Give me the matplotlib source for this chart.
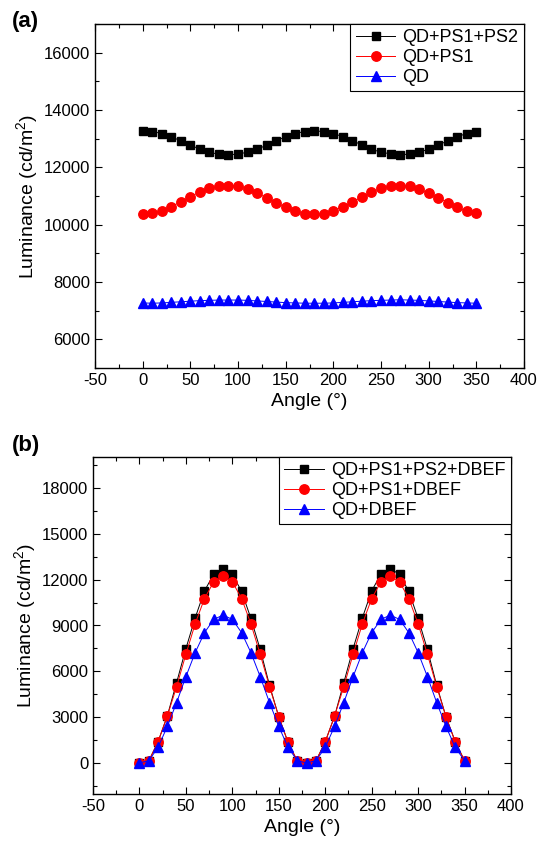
import matplotlib
matplotlib.use('Agg')
import matplotlib.pyplot as plt
from matplotlib.ticker import MultipleLocator

plt.rcParams['font.family'] = ['Liberation Sans', 'DejaVu Sans']
plt.rcParams['axes.unicode_minus'] = False
plt.rcParams['mathtext.fontset'] = 'custom'
plt.rcParams['mathtext.rm'] = 'Liberation Sans'

# 角度 (°)
angle = list(range(0, 360, 10))

# (a) 无 DBEF
lum_qd_ps1_ps2 = [13270, 13250, 13180, 13070, 12920, 12780, 12630, 12520, 12460, 12440,
                  12460, 12530, 12630, 12770, 12920, 13070, 13180, 13250, 13270, 13250,
                  13180, 13070, 12930, 12780, 12630, 12530, 12470, 12440, 12460, 12530,
                  12630, 12780, 12920, 13070, 13180, 13250]
lum_qd_ps1 = [10360, 10390, 10490, 10630, 10800, 10980, 11140, 11270, 11340, 11360,
              11340, 11240, 11100, 10940, 10770, 10600, 10470, 10370, 10360, 10370,
              10490, 10630, 10790, 10970, 11130, 11270, 11340, 11360, 11340, 11240,
              11100, 10940, 10770, 10600, 10470, 10390]
lum_qd = [7270, 7260, 7270, 7290, 7310, 7330, 7350, 7360, 7370, 7370,
          7370, 7360, 7340, 7320, 7300, 7280, 7270, 7260, 7260, 7260,
          7270, 7290, 7310, 7330, 7350, 7360, 7370, 7380, 7370, 7360,
          7340, 7320, 7300, 7280, 7270, 7260]

# (b) 加 DBEF
lum_b_ps1_ps2 = [30, 150, 1410, 3100, 5270, 7490, 9500, 11260, 12350, 12700,
                 12350, 11220, 9460, 7440, 5100, 3040, 1370, 150, 30, 150,
                 1410, 3060, 5270, 7490, 9500, 11260, 12350, 12700, 12350, 11220,
                 9460, 7440, 5100, 3040, 1410, 170]
lum_b_ps1 = [30, 150, 1410, 3080, 5010, 7120, 9110, 10760, 11850, 12200,
             11850, 10760, 9110, 7120, 5010, 3040, 1370, 150, 30, 150,
             1410, 3080, 5010, 7120, 9110, 10760, 11850, 12200, 11850, 10760,
             9110, 7120, 5010, 3040, 1410, 170]
lum_b_qd = [30, 170, 1040, 2410, 3970, 5660, 7230, 8530, 9400, 9680,
            9400, 8530, 7230, 5660, 3970, 2410, 1040, 170, 30, 170,
            1040, 2410, 3970, 5660, 7230, 8530, 9400, 9680, 9400, 8530,
            7230, 5660, 3970, 2410, 1040, 170]

fig = plt.figure(figsize=(5.4, 8.51), dpi=100)
ax1 = fig.add_axes([95/540, 1-368/851, (524-95)/540, (368-24)/851])
ax2 = fig.add_axes([93/540, 1-794/851, (511-93)/540, (794-457)/851])


def style(ax):
    ax.set_xlim(-50, 400)
    ax.xaxis.set_major_locator(MultipleLocator(50))
    ax.xaxis.set_minor_locator(MultipleLocator(25))
    ax.tick_params(which='both', direction='in', top=True, right=True, labelsize=12)
    ax.tick_params(which='major', length=5, width=0.8)
    ax.tick_params(which='minor', length=3, width=0.8)
    ax.set_xlabel('Angle (°)', fontsize=14)
    ax.set_ylabel('Luminance (cd/m$^2$)', fontsize=14, labelpad=2)
    for s in ax.spines.values():
        s.set_linewidth(1.0)


def legend(ax):
    leg = ax.legend(loc='upper right', bbox_to_anchor=(1.0, 1.0), fontsize=13, fancybox=False,
                    edgecolor='black', framealpha=1, borderaxespad=0, handlelength=2.2,
                    labelspacing=0.15, borderpad=0.3, handletextpad=0.4)
    leg.get_frame().set_linewidth(0.8)


ax1.plot(angle, lum_qd_ps1_ps2, color='black', marker='s', ms=5.8, lw=0.7, label='QD+PS1+PS2')
ax1.plot(angle, lum_qd_ps1, color='red', marker='o', ms=6.8, lw=0.7, label='QD+PS1')
ax1.plot(angle, lum_qd, color='blue', marker='^', ms=6.8, lw=0.7, label='QD')
style(ax1)
ax1.set_ylim(5000, 17000)
ax1.yaxis.set_major_locator(MultipleLocator(2000))
ax1.yaxis.set_minor_locator(MultipleLocator(1000))
legend(ax1)

ax2.plot(angle, lum_b_ps1_ps2, color='black', marker='s', ms=5.8, lw=0.7, label='QD+PS1+PS2+DBEF')
ax2.plot(angle, lum_b_ps1, color='red', marker='o', ms=6.8, lw=0.7, label='QD+PS1+DBEF')
ax2.plot(angle, lum_b_qd, color='blue', marker='^', ms=6.8, lw=0.7, label='QD+DBEF')
style(ax2)
ax2.set_ylim(-2000, 20000)
ax2.yaxis.set_major_locator(MultipleLocator(3000))
ax2.yaxis.set_minor_locator(MultipleLocator(1500))
legend(ax2)

fig.text(12/540, 1-22/851, '(a)', fontsize=16, fontweight='bold', va='center', ha='left')
fig.text(12/540, 1-446/851, '(b)', fontsize=16, fontweight='bold', va='center', ha='left')

fig.savefig('out.png', dpi=100)
